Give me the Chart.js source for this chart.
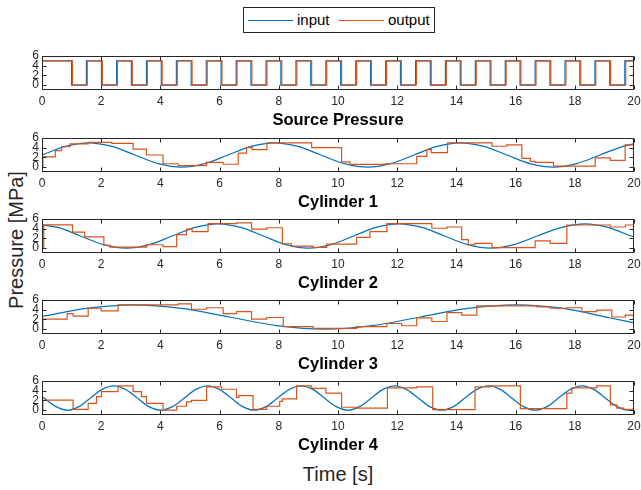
<!DOCTYPE html>
<html>
<head>
<meta charset="utf-8">
<script src="https://cdn.jsdelivr.net/npm/chart.js@4"></script>
<style>
  body { margin:0; width:641px; height:490px; background:#fff; position:relative; overflow:hidden;
         font-family:"Liberation Sans", Arial, sans-serif; color:#262626; }
  .panel { position:absolute; left:0; }
  #legend { position:absolute; left:243px; top:7px; width:190px; height:24px; border:1px solid #262626; background:#fff; }
  #legend .line { position:absolute; top:12px; height:1px; width:45px; }
  #legend .label { position:absolute; top:3px; font-size:15px; line-height:18px; color:#000; }
  #ylabel { position:absolute; left:16px; top:240px; transform:translate(-50%,-50%) rotate(-90deg);
            font-size:20px; white-space:nowrap; color:#262626; }
  #xlabel { position:absolute; left:338px; top:474px; transform:translate(-50%,-50%);
            font-size:20px; white-space:nowrap; color:#262626; }
</style>
</head>
<body>
<div id="legend">
  <div class="line" style="left:4px;background:#0072BD"></div>
  <div class="label" style="left:53px">input</div>
  <div class="line" style="left:95px;background:#D95319"></div>
  <div class="label" style="left:144px">output</div>
</div>
<div id="ylabel">Pressure [MPa]</div>
<div id="xlabel">Time [s]</div>

<script>
// axis ticks
const xTicks = [0, 2, 4, 6, 8, 10, 12, 14, 16, 18, 20];
const yTicks = [0, 2, 4, 6];

const titles = ['Source Pressure', 'Cylinder 1', 'Cylinder 2', 'Cylinder 3', 'Cylinder 4'];

// Source pressure (square wave, step points)
const srcInTimes = [0, 1.0, 1.5, 2.01, 2.52, 3.02, 3.53, 4.03, 4.54, 5.04, 5.55, 6.05, 6.56, 7.06, 7.57, 8.07, 8.58, 9.08, 9.59, 10.09,
  10.6, 11.1, 11.61, 12.11, 12.62, 13.12, 13.63, 14.13, 14.64, 15.14, 15.65, 16.15, 16.66, 17.16, 17.67, 18.17, 18.68, 19.18, 19.69, 20];
const srcInValues = [5, 0, 5, 0, 5, 0, 5, 0, 5, 0, 5, 0, 5, 0, 5, 0, 5, 0, 5, 0,
  5, 0, 5, 0, 5, 0, 5, 0, 5, 0, 5, 0, 5, 0, 5, 0, 5, 0, 5, 5];
const srcOutTimes = [0, 1.03, 1.53, 2.04, 2.55, 3.05, 3.56, 4.06, 4.57, 5.07, 5.58, 6.08, 6.59, 7.09, 7.6, 8.1, 8.61, 9.11, 9.62, 10.12,
  10.63, 11.13, 11.64, 12.14, 12.65, 13.15, 13.66, 14.16, 14.67, 15.17, 15.68, 16.18, 16.69, 17.19, 17.7, 18.2, 18.71, 19.21, 19.72, 20];
const srcOutValues = [5, 0.05, 5, 0.05, 5, 0.05, 5, 0.05, 5, 0.05, 5, 0.05, 5, 0.05, 5, 0.05, 5, 0.05, 5, 0.05,
  5, 0.05, 5, 0.05, 5, 0.05, 5, 0.05, 5, 0.05, 5, 0.05, 5, 0.05, 5, 0.05, 5, 0.05, 5, 5];

// Cylinder 1
const cyl1InTimes = [0, 0.79, 1.57, 2.36, 3.14, 3.93, 4.71, 5.5, 6.28, 7.07, 7.85, 8.64, 9.42, 10.21, 11.0, 11.78, 12.57, 13.35,
  14.14, 14.92, 15.71, 16.49, 17.28, 18.06, 18.85, 19.63, 20];
const cyl1InValues = [2.5, 4.27, 5, 4.27, 2.5, 0.73, 0, 0.73, 2.5, 4.27, 5, 4.27, 2.5, 0.73, 0, 0.73, 2.5, 4.27,
  5, 4.27, 2.5, 0.73, 0, 0.73, 2.5, 4.27, 4.78];
const cyl1OutTimes = [0, 0.03, 0.45, 0.66, 0.95, 1.56, 2.36, 3.08, 3.53, 4.09, 4.6, 5.56, 6.12, 6.63, 6.91, 7.1, 7.6, 9.11,
  10.12, 10.4, 11.59, 12.66, 13.0, 13.15, 13.7, 15.2, 15.7, 16.21, 16.5, 16.66, 17.28, 18.69, 19.2, 19.7, 20];
const cyl1OutValues = [0, 2.1, 3.4, 4.2, 4.8, 5.1, 4.9, 3.7, 2.5, 0.7, 0.3, 1.0, 0.6, 2.9, 4.0, 3.6, 5.0, 4.0,
  1.1, 0.55, 0.7, 2.2, 3.6, 3.0, 5.0, 4.3, 4.6, 1.8, 1.2, 1.0, 0.2, 1.9, 1.4, 4.6, 4.6];

// Cylinder 2
const cyl2InTimes = [0, 0.53, 1.3, 2.08, 2.85, 3.63, 4.4, 5.18, 5.95, 6.71, 7.48, 8.24, 9.0, 9.76, 10.53, 11.29, 12.05,
  12.83, 13.6, 14.38, 15.15, 15.94, 16.73, 17.55, 18.35, 19.12, 19.9, 20];
const cyl2InValues = [4.8, 4.27, 2.5, 0.73, 0, 0.73, 2.5, 4.27, 5, 4.27, 2.5, 0.73, 0, 0.73, 2.5, 4.27, 5,
  4.27, 2.5, 0.73, 0, 0.73, 2.5, 4.27, 5, 4.27, 2.5, 2.3];
const cyl2OutTimes = [0, 0.06, 1.03, 1.44, 2.09, 2.3, 3.53, 4.09, 4.55, 4.88, 5.07, 5.61, 6.57, 7.08, 7.59, 8.12, 8.43, 9.16,
  9.62, 10.63, 11.08, 11.65, 13.17, 13.68, 14.18, 14.4, 14.62, 15.2, 16.66, 17.17, 17.73, 19.2, 19.71, 20];
const cyl2OutValues = [0, 4.8, 3.3, 2.3, 0.6, 0.2, 0.7, 0.3, 2.8, 3.9, 3.4, 5.05, 5.2, 3.9, 4.2, 0.9, 0.4, 0.15,
  0.84, 2.2, 3.4, 5.05, 4.1, 4.35, 1.75, 0.7, 1.0, 0.1, 1.5, 1.0, 4.76, 4.35, 4.76, 4.76];

// Cylinder 3
const cyl3InTimes = [0, 1.49, 3.1, 4.71, 6.32, 7.94, 9.55, 11.16, 12.78, 14.39, 16.0, 17.61, 19.2, 20];
const cyl3InValues = [2.6, 4.27, 5, 4.27, 2.5, 0.73, 0, 0.73, 2.5, 4.27, 5, 4.27, 2.3, 1.3];
const cyl3OutTimes = [0, 0.03, 0.85, 1.05, 1.56, 2.0, 2.57, 4.6, 5.05, 5.56, 6.12, 6.57, 7.08, 7.59, 8.15, 9.16,
  10.63, 11.65, 12.15, 12.66, 13.17, 13.68, 14.18, 14.69, 16.72, 17.17, 17.73, 18.24, 18.74, 19.25, 19.71, 20];
const cyl3OutValues = [0, 2.05, 3.2, 2.7, 4.3, 3.75, 5.0, 5.2, 4.1, 4.4, 3.2, 3.6, 2.05, 2.4, 0.5, 0.15,
  0.5, 1.16, 0.7, 2.3, 1.57, 3.4, 2.9, 4.8, 4.6, 4.3, 4.4, 3.6, 3.9, 2.5, 2.9, 2.9];

// Cylinder 4
const cyl4InTimes = [0, 0.07, 0.47, 0.86, 1.25, 1.64, 2.03, 2.42, 2.82, 3.22, 3.61, 4.01, 4.41, 4.81, 5.2, 5.6,
  5.99, 6.39, 6.78, 7.17, 7.57, 7.96, 8.36, 8.75, 9.15, 9.54, 9.94, 10.33, 10.73, 11.13, 11.52, 11.92,
  12.31, 12.71, 13.1, 13.5, 13.9, 14.29, 14.69, 15.08, 15.48, 15.87, 16.27, 16.66, 17.06, 17.45, 17.85, 18.24,
  18.64, 19.03, 19.43, 19.82, 20];
const cyl4InValues = [2.8, 2.5, 0.73, 0, 0.73, 2.5, 4.27, 5, 4.27, 2.5, 0.73, 0, 0.73, 2.5, 4.27, 5,
  4.27, 2.5, 0.73, 0, 0.73, 2.5, 4.27, 5, 4.27, 2.5, 0.73, 0, 0.73, 2.5, 4.27, 5,
  4.27, 2.5, 0.73, 0, 0.73, 2.5, 4.27, 5, 4.27, 2.5, 0.73, 0, 0.73, 2.5, 4.27, 5,
  4.27, 2.5, 0.73, 0, 0.15];
const cyl4OutTimes = [0, 0.03, 1.05, 1.56, 1.84, 2.01, 2.57, 3.08, 3.36, 3.53, 4.09, 4.55, 4.88, 5.05, 5.56, 6.07,
  6.57, 6.65, 7.13, 7.59, 8.03, 8.12, 8.6, 9.11, 9.59, 10.12, 10.63, 11.67, 12.66, 13.2, 14.63, 15.14,
  16.16, 17.73, 17.9, 18.74, 19.2, 19.42, 19.65, 20];
const cyl4OutValues = [0, 2.07, 0.14, 1.4, 2.8, 3.8, 5.0, 3.8, 2.8, 1.4, 0.0, 0.8, 1.7, 2.0, 4.8, 4.3,
  2.6, 3.0, 0.15, 0.8, 1.8, 2.3, 5.0, 4.5, 3.5, 0.6, 0.4, 4.6, 4.8, 0.1, 4.8, 5.0,
  0.3, 3.5, 4.6, 5.0, 1.1, 0.4, 0.15, 0.15];

const inTimes = [srcInTimes, cyl1InTimes, cyl2InTimes, cyl3InTimes, cyl4InTimes];
const inValues = [srcInValues, cyl1InValues, cyl2InValues, cyl3InValues, cyl4InValues];
const outTimes = [srcOutTimes, cyl1OutTimes, cyl2OutTimes, cyl3OutTimes, cyl4OutTimes];
const outValues = [srcOutValues, cyl1OutValues, cyl2OutValues, cyl3OutValues, cyl4OutValues];

// layout of the five axes (top of each plot area, px)
const plotTops = [56, 138, 219, 300, 381];
const plotHeight = 34;
const padTop = 10;
const xAxisHeight = 42;

Chart.defaults.font.family = '"Liberation Sans", Arial, sans-serif';
Chart.defaults.color = '#262626';

function toPoints(ts, vs) {
  return ts.map((t, i) => ({ x: t, y: vs[i] }));
}

// MATLAB-like box with inward ticks on all four sides
const boxPlugin = {
  id: 'matlabBox',
  afterDraw(chart) {
    const { ctx, chartArea: a, scales: { x, y } } = chart;
    const L = 4;
    const l = Math.round(a.left) + 0.5, r = Math.round(a.right) - 0.5;
    const t = Math.round(a.top) + 0.5, b = Math.round(a.bottom) - 0.5;
    ctx.save();
    ctx.strokeStyle = '#262626';
    ctx.lineWidth = 1;
    ctx.beginPath();
    ctx.rect(l, t, r - l, b - t);
    x.ticks.forEach(tk => {
      const px = Math.round(x.getPixelForValue(tk.value)) + 0.5;
      ctx.moveTo(px, b); ctx.lineTo(px, b - L);
      ctx.moveTo(px, t); ctx.lineTo(px, t + L);
    });
    y.ticks.forEach(tk => {
      const py = Math.round(y.getPixelForValue(tk.value)) + 0.5;
      ctx.moveTo(l, py); ctx.lineTo(l + L, py);
      ctx.moveTo(r, py); ctx.lineTo(r - L, py);
    });
    ctx.stroke();
    ctx.restore();
  }
};

titles.forEach((title, i) => {
  const div = document.createElement('div');
  div.className = 'panel';
  div.style.top = (plotTops[i] - padTop) + 'px';
  const canvas = document.createElement('canvas');
  canvas.width = 641;
  canvas.height = padTop + plotHeight + xAxisHeight;
  div.appendChild(canvas);
  document.body.appendChild(div);

  const smooth = i > 0;
  new Chart(canvas.getContext('2d'), {
    type: 'line',
    data: {
      datasets: [
        {
          label: 'output',
          data: toPoints(outTimes[i], outValues[i]),
          borderColor: '#D95319',
          borderWidth: 1.2,
          pointRadius: 0,
          stepped: true,
          order: 0
        },
        {
          label: 'input',
          data: toPoints(inTimes[i], inValues[i]),
          borderColor: '#0072BD',
          borderWidth: 1.2,
          pointRadius: 0,
          stepped: !smooth,
          cubicInterpolationMode: smooth ? 'monotone' : 'default',
          order: 1
        }
      ]
    },
    options: {
      responsive: false,
      animation: false,
      events: [],
      layout: { padding: { top: padTop, left: 0, right: 7, bottom: 0 } },
      plugins: { legend: { display: false }, tooltip: { enabled: false } },
      scales: {
        x: {
          type: 'linear',
          min: 0,
          max: 20,
          afterBuildTicks: s => { s.ticks = xTicks.map(v => ({ value: v })); },
          afterFit: s => { s.height = xAxisHeight; s.paddingLeft = 0; s.paddingRight = 0; },
          grid: { display: false, drawTicks: false },
          border: { display: false },
          ticks: { font: { size: 12 }, padding: 4, maxRotation: 0, autoSkip: false, color: '#262626' },
          title: {
            display: true,
            text: title,
            color: '#000',
            font: { size: 16.5, weight: 'bold' },
            padding: { top: 0, bottom: 2 }
          }
        },
        y: {
          min: -1,
          max: 6,
          afterBuildTicks: s => { s.ticks = yTicks.map(v => ({ value: v })); },
          afterFit: s => { s.width = 42; s.paddingTop = 0; s.paddingBottom = 0; },
          grid: { display: false, drawTicks: false },
          border: { display: false },
          ticks: { font: { size: 12 }, padding: 3, autoSkip: false, color: '#262626' }
        }
      }
    },
    plugins: [boxPlugin]
  });
});
</script>
</body>
</html>
